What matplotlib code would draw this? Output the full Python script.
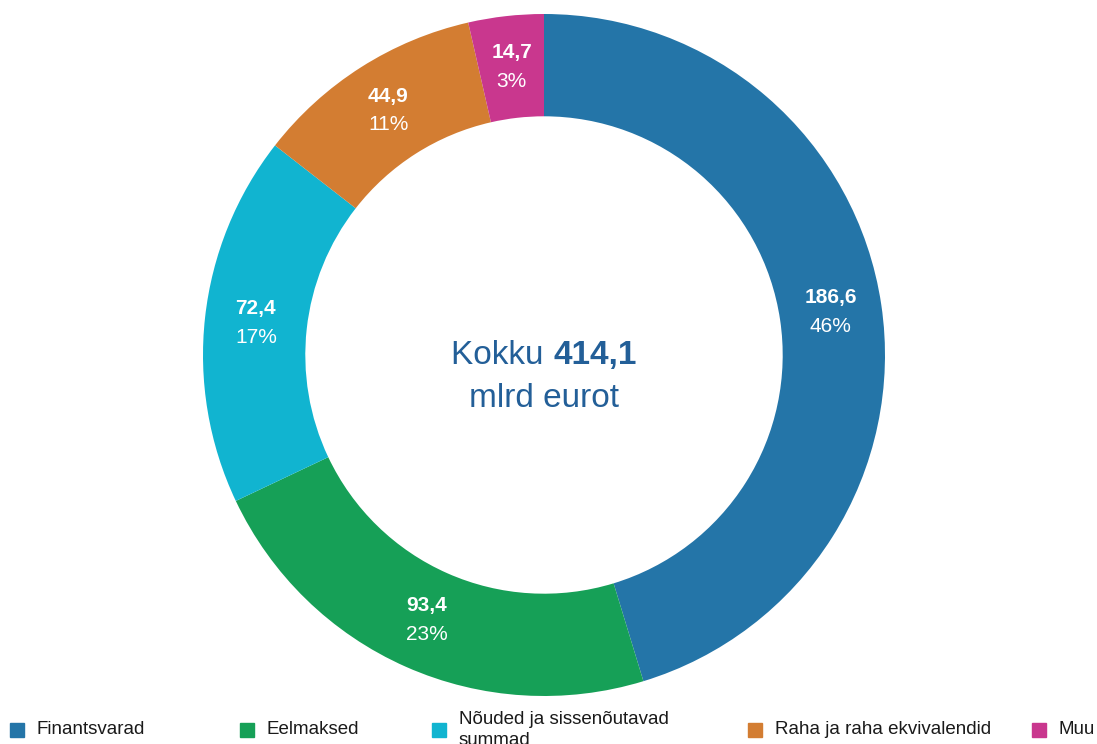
import numpy as np
import matplotlib.pyplot as plt
from matplotlib.patches import Rectangle

plt.rcParams['font.family'] = ['Liberation Sans', 'DejaVu Sans']

# Andmed
kategooriad = ['Finantsvarad', 'Eelmaksed', 'Nõuded ja sissenõutavad\nsummad',
               'Raha ja raha ekvivalendid', 'Muu']
vaartused = [186.6, 93.4, 72.4, 44.9, 14.7]
vaartuse_sildid = ['186,6', '93,4', '72,4', '44,9', '14,7']
protsendi_sildid = ['46%', '23%', '17%', '11%', '3%']
kokku_silt = '414,1'
varvid = ['#2475a8', '#16a057', '#11b4d0', '#d37d32', '#c9378e']
teksti_varv = '#235f98'

fig = plt.figure(figsize=(10.97, 7.44), dpi=100)
W, H = 1097, 744
cx, cy, r = 544, 355, 341
ax = fig.add_axes([(cx - r) / W, (H - cy - r) / H, 2 * r / W, 2 * r / H])

wedges, _ = ax.pie(vaartused, colors=varvid, startangle=90, counterclock=False,
                   radius=1.0, wedgeprops=dict(width=0.30, edgecolor='none'))
ax.set_xlim(-1, 1)
ax.set_ylim(-1, 1)
ax.set_aspect('equal')
ax.axis('off')

# Sildid rõnga sees
for w, v, p in zip(wedges, vaartuse_sildid, protsendi_sildid):
    ang = np.deg2rad((w.theta1 + w.theta2) / 2)
    x = 0.85 * np.cos(ang)
    y = 0.85 * np.sin(ang)
    ax.text(x, y + 0.042, v, ha='center', va='center', color='white',
            fontsize=15, fontweight='bold')
    ax.text(x, y - 0.042, p, ha='center', va='center', color='white', fontsize=15)

# Keskmine tekst
fig.canvas.draw()
renderer = fig.canvas.get_renderer()
t1 = ax.text(0, 0, 'Kokku ', fontsize=24, color=teksti_varv, ha='left', va='baseline')
t2 = ax.text(0, 0, kokku_silt, fontsize=24, color=teksti_varv, fontweight='bold',
             ha='left', va='baseline')
w1 = t1.get_window_extent(renderer).width
w2 = t2.get_window_extent(renderer).width
x0 = -(w1 + w2) / 2 / r
t1.set_position((x0, -0.025))
t2.set_position((x0 + w1 / r, -0.025))
ax.text(0, -0.152, 'mlrd eurot', fontsize=24, color=teksti_varv, ha='center', va='baseline')

# Legend
leg_x = [10, 240, 432, 748, 1032]
for x, k, c in zip(leg_x, kategooriad, varvid):
    fig.patches.append(Rectangle((x / W, (H - 737) / H), 14 / W, 14 / H,
                                 transform=fig.transFigure, color=c))
    fig.text((x + 27) / W, (H - 730) / H, k, fontsize=13.5, color='#1a1a1a',
             ha='left', va='center', linespacing=1.25)

fig.savefig('out.png', dpi=100)
